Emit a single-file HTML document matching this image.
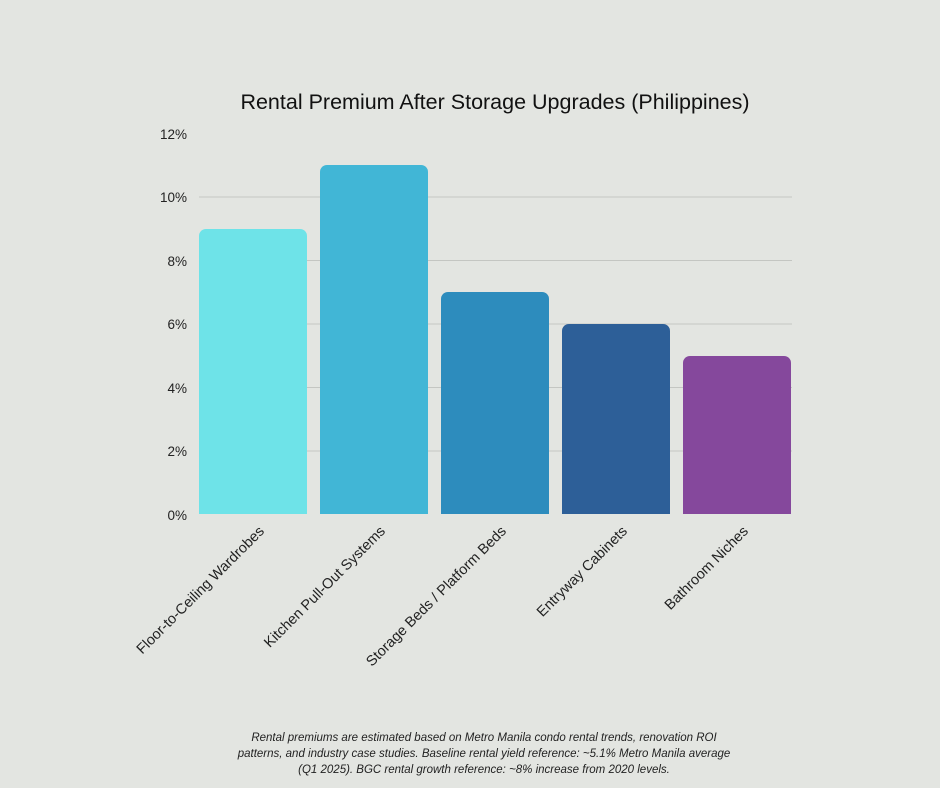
<!DOCTYPE html>
<html><head><meta charset="utf-8"><style>
body{margin:0;background:#e3e5e1;}
svg{display:block;font-family:"Liberation Sans",sans-serif;}
</style></head><body>
<svg width="940" height="788" viewBox="0 0 940 788">
<rect width="940" height="788" fill="#e3e5e1"/>
<text x="495" y="109" text-anchor="middle" font-size="21.5" fill="#111">Rental Premium After Storage Upgrades (Philippines)</text>
<g stroke="#c4c6c2" stroke-width="1">
<line x1="199" x2="792" y1="197" y2="197"/>
<line x1="199" x2="792" y1="260.5" y2="260.5"/>
<line x1="199" x2="792" y1="324" y2="324"/>
<line x1="199" x2="792" y1="387.5" y2="387.5"/>
<line x1="199" x2="792" y1="451" y2="451"/>
</g>
<g font-size="13.5" fill="#222" text-anchor="end">
<text x="187" y="139">12%</text>
<text x="187" y="202">10%</text>
<text x="187" y="266">8%</text>
<text x="187" y="329">6%</text>
<text x="187" y="393">4%</text>
<text x="187" y="456">2%</text>
<text x="187" y="520">0%</text>
</g>
<path d="M199,514 V236 a7,7 0 0 1 7,-7 H300 a7,7 0 0 1 7,7 V514Z" fill="#6ee3e8"/>
<path d="M320,514 V172 a7,7 0 0 1 7,-7 H421 a7,7 0 0 1 7,7 V514Z" fill="#41b6d6"/>
<path d="M441,514 V299 a7,7 0 0 1 7,-7 H542 a7,7 0 0 1 7,7 V514Z" fill="#2d8cbd"/>
<path d="M562,514 V331 a7,7 0 0 1 7,-7 H663 a7,7 0 0 1 7,7 V514Z" fill="#2d5f98"/>
<path d="M683,514 V363 a7,7 0 0 1 7,-7 H784 a7,7 0 0 1 7,7 V514Z" fill="#85489c"/>
<g font-size="14.5" fill="#222" text-anchor="end">
<text transform="translate(265,532) rotate(-45)">Floor-to-Ceiling Wardrobes</text>
<text transform="translate(386,532) rotate(-45)">Kitchen Pull-Out Systems</text>
<text transform="translate(507,532) rotate(-45)">Storage Beds / Platform Beds</text>
<text transform="translate(628,532) rotate(-45)">Entryway Cabinets</text>
<text transform="translate(749,532) rotate(-45)">Bathroom Niches</text>
</g>
<g font-size="11.5" font-style="italic" fill="#222" text-anchor="middle">
<text x="484" y="741">Rental premiums are estimated based on Metro Manila condo rental trends, renovation ROI</text>
<text x="484" y="757">patterns, and industry case studies. Baseline rental yield reference: ~5.1% Metro Manila average</text>
<text x="484" y="773">(Q1 2025). BGC rental growth reference: ~8% increase from 2020 levels.</text>
</g>
</svg>
</body></html>
